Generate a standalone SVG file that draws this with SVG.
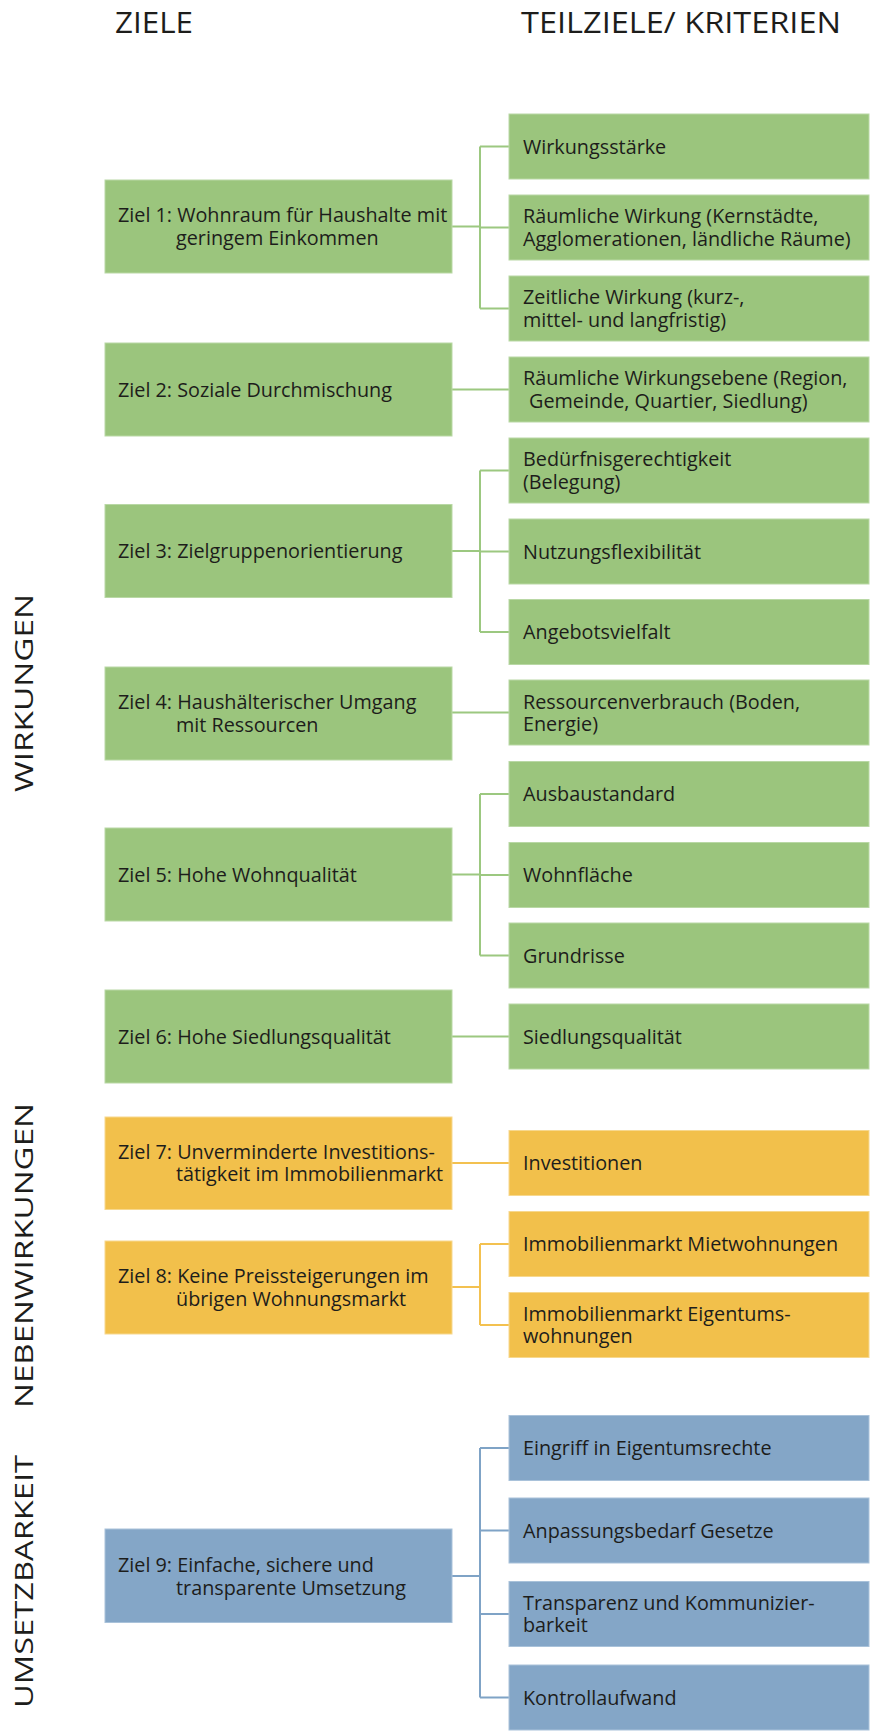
<svg xmlns="http://www.w3.org/2000/svg" width="874" height="1731" viewBox="0 0 874 1731">
<style>
.g{fill:#9bc57d;stroke:#b9d8a5;stroke-width:1}
.o{fill:#f2c04b;stroke:#f7d88e;stroke-width:1}
.b{fill:#84a6c7;stroke:#a9c2da;stroke-width:1}
.t{font-family:"Open Sans","Noto Sans",sans-serif;font-size:19.8px;fill:#1d1d1b}
.h{font-family:"Open Sans","Noto Sans",sans-serif;font-size:30px;fill:#1d1d1b}
.v{font-family:"Open Sans","Noto Sans",sans-serif;font-size:26px;fill:#1d1d1b;text-anchor:middle}
.cg{stroke:#9cc880;stroke-width:2;fill:none}
.co{stroke:#f3c150;stroke-width:2;fill:none}
.cb{stroke:#7fa3c6;stroke-width:2;fill:none}
</style>
<rect width="874" height="1731" fill="#ffffff"/>
<g id="headers">
<text class="h" x="115" y="33" textLength="78" lengthAdjust="spacingAndGlyphs">ZIELE</text>
<text class="h" x="521" y="33" textLength="320" lengthAdjust="spacingAndGlyphs">TEILZIELE/ KRITERIEN</text>
</g>
<g id="sections">
<text class="v" transform="translate(33,693) rotate(-90)" textLength="198" lengthAdjust="spacingAndGlyphs">WIRKUNGEN</text>
<text class="v" transform="translate(33,1255.5) rotate(-90)" textLength="305" lengthAdjust="spacingAndGlyphs">NEBENWIRKUNGEN</text>
<text class="v" transform="translate(33,1581.5) rotate(-90)" textLength="253" lengthAdjust="spacingAndGlyphs">UMSETZBARKEIT</text>
</g>
<g id="connectors">
<path class="cg" d="M452 226.5H480M480 146.5V308.5M480 146.5H509M480 227.5H509M480 308.5H509"/>
<path class="cg" d="M452 389.5H509"/>
<path class="cg" d="M452 551H480M480 470.5V632M480 470.5H509M480 551.5H509M480 632H509"/>
<path class="cg" d="M452 712.5H509"/>
<path class="cg" d="M452 874.5H480M480 794V955.5M480 794H509M480 875H509M480 955.5H509"/>
<path class="cg" d="M452 1036.5H509"/>
<path class="co" d="M452 1163H509"/>
<path class="co" d="M452 1287H480M480 1244V1325M480 1244H509M480 1325H509"/>
<path class="cb" d="M452 1576H480M480 1448V1697.5M480 1448H509M480 1530.5H509M480 1614H509M480 1697.5H509"/>
</g>
<g id="ziel1"><rect class="g" x="105" y="180" width="347" height="93"/><text class="t" x="118" y="222">Ziel 1: Wohnraum für Haushalte mit</text><text class="t" x="176" y="245">geringem Einkommen</text></g>
<g id="ziel2"><rect class="g" x="105" y="343" width="347" height="93"/><text class="t" x="118" y="396.5">Ziel 2: Soziale Durchmischung</text></g>
<g id="ziel3"><rect class="g" x="105" y="504.5" width="347" height="93"/><text class="t" x="118" y="558">Ziel 3: Zielgruppenorientierung</text></g>
<g id="ziel4"><rect class="g" x="105" y="667" width="347" height="93"/><text class="t" x="118" y="709">Ziel 4: Haushälterischer Umgang</text><text class="t" x="176" y="731.5">mit Ressourcen</text></g>
<g id="ziel5"><rect class="g" x="105" y="828" width="347" height="93"/><text class="t" x="118" y="881.5">Ziel 5: Hohe Wohnqualität</text></g>
<g id="ziel6"><rect class="g" x="105" y="990" width="347" height="93"/><text class="t" x="118" y="1043.5">Ziel 6: Hohe Siedlungsqualität</text></g>
<g id="ziel7"><rect class="o" x="105" y="1117" width="347" height="92.5"/><text class="t" x="118" y="1158.5">Ziel 7: Unverminderte Investitions-</text><text class="t" x="176" y="1181">tätigkeit im Immobilienmarkt</text></g>
<g id="ziel8"><rect class="o" x="105" y="1241" width="347" height="93"/><text class="t" x="118" y="1283">Ziel 8: Keine Preissteigerungen im</text><text class="t" x="176" y="1305.5">übrigen Wohnungsmarkt</text></g>
<g id="ziel9"><rect class="b" x="105" y="1529" width="347" height="93.5"/><text class="t" x="118" y="1572">Ziel 9: Einfache, sichere  und</text><text class="t" x="176" y="1594.5">transparente Umsetzung</text></g>
<g id="k1"><rect class="g" x="509" y="114" width="360" height="65"/><text class="t" x="523" y="153.5">Wirkungsstärke</text></g>
<g id="k2"><rect class="g" x="509" y="195" width="360" height="65"/><text class="t" x="523" y="223">Räumliche Wirkung (Kernstädte,</text><text class="t" x="523" y="245.5">Agglomerationen, ländliche Räume)</text></g>
<g id="k3"><rect class="g" x="509" y="276" width="360" height="65"/><text class="t" x="523" y="304">Zeitliche Wirkung (kurz-,</text><text class="t" x="523" y="326.5">mittel- und langfristig)</text></g>
<g id="k4"><rect class="g" x="509" y="357" width="360" height="65"/><text class="t" x="523" y="385">Räumliche Wirkungsebene (Region,</text><text class="t" x="529" y="407.5">Gemeinde, Quartier, Siedlung)</text></g>
<g id="k5"><rect class="g" x="509" y="438" width="360" height="65"/><text class="t" x="523" y="466">Bedürfnisgerechtigkeit</text><text class="t" x="523" y="488.5">(Belegung)</text></g>
<g id="k6"><rect class="g" x="509" y="519" width="360" height="65"/><text class="t" x="523" y="558.5">Nutzungsflexibilität</text></g>
<g id="k7"><rect class="g" x="509" y="599.5" width="360" height="65"/><text class="t" x="523" y="639">Angebotsvielfalt</text></g>
<g id="k8"><rect class="g" x="509" y="680" width="360" height="65"/><text class="t" x="523" y="708.5">Ressourcenverbrauch (Boden,</text><text class="t" x="523" y="731">Energie)</text></g>
<g id="k9"><rect class="g" x="509" y="761.5" width="360" height="65"/><text class="t" x="523" y="801">Ausbaustandard</text></g>
<g id="k10"><rect class="g" x="509" y="842.5" width="360" height="65"/><text class="t" x="523" y="882">Wohnfläche</text></g>
<g id="k11"><rect class="g" x="509" y="923" width="360" height="65"/><text class="t" x="523" y="962.5">Grundrisse</text></g>
<g id="k12"><rect class="g" x="509" y="1004" width="360" height="65"/><text class="t" x="523" y="1043.5">Siedlungsqualität</text></g>
<g id="k13"><rect class="o" x="509" y="1130.5" width="360" height="65"/><text class="t" x="523" y="1170">Investitionen</text></g>
<g id="k14"><rect class="o" x="509" y="1211.5" width="360" height="65"/><text class="t" x="523" y="1251">Immobilienmarkt Mietwohnungen</text></g>
<g id="k15"><rect class="o" x="509" y="1292.5" width="360" height="65"/><text class="t" x="523" y="1320.5">Immobilienmarkt Eigentums-</text><text class="t" x="523" y="1343">wohnungen</text></g>
<g id="k16"><rect class="b" x="509" y="1415.5" width="360" height="65"/><text class="t" x="523" y="1455">Eingriff in Eigentumsrechte</text></g>
<g id="k17"><rect class="b" x="509" y="1498" width="360" height="65"/><text class="t" x="523" y="1537.5">Anpassungsbedarf Gesetze</text></g>
<g id="k18"><rect class="b" x="509" y="1581.5" width="360" height="65"/><text class="t" x="523" y="1609.5">Transparenz und Kommunizier-</text><text class="t" x="523" y="1632">barkeit</text></g>
<g id="k19"><rect class="b" x="509" y="1665" width="360" height="65"/><text class="t" x="523" y="1704.5">Kontrollaufwand</text></g>
</svg>
